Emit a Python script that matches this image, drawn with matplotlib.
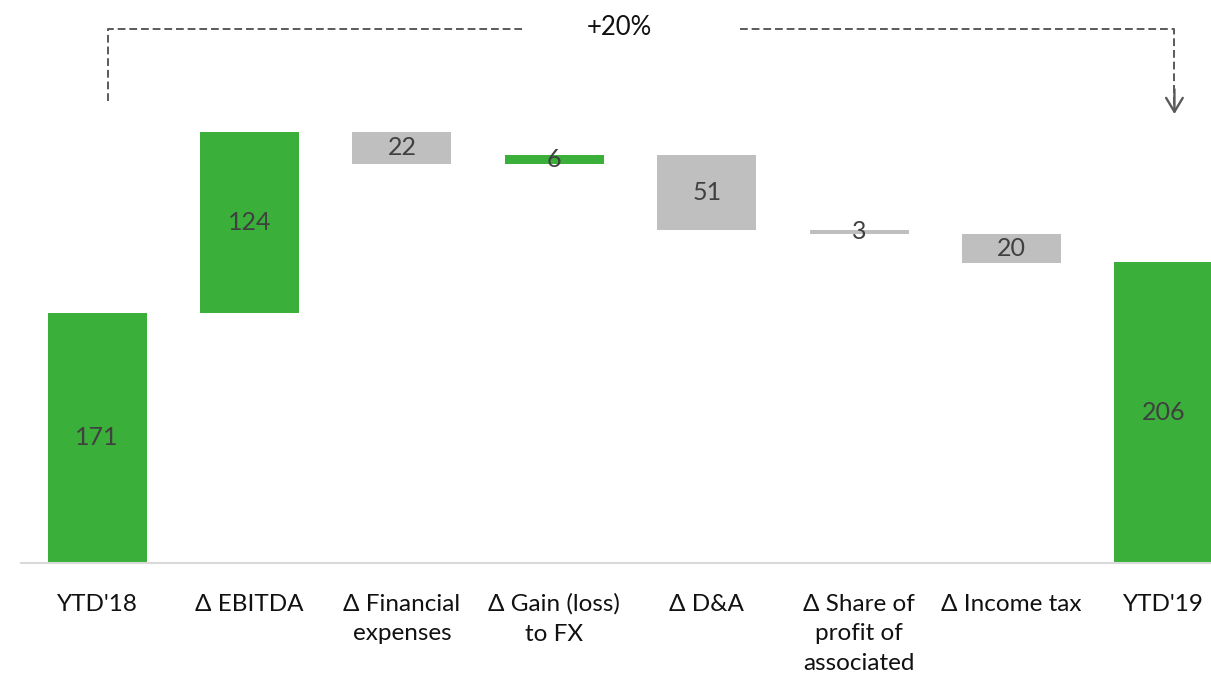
import matplotlib.pyplot as plt

plt.rcParams["font.family"] = ["Lato", "DejaVu Sans"]

categories = ["YTD'18", "Δ EBITDA", "Δ Financial\nexpenses", "Δ Gain (loss)\nto FX",
              "Δ D&A", "Δ Share of\nprofit of\nassociated", "Δ Income tax", "YTD'19"]
deltas = [171, 124, -22, 6, -51, -3, -20, 206]
labels = ["171", "124", "22", "6", "51", "3", "20", "206"]
is_total = [True, False, False, False, False, False, False, True]
growth_label = "+20%"

GREEN = "#3aaf3a"
GREY = "#bfbfbf"
LINE = "#5a5a5a"

fig = plt.figure(figsize=(12.11, 6.75), dpi=100)
ax = fig.add_axes([21 / 1211, 112 / 675, 1190 / 1211, 563 / 675])

running = 0
for i, (d, tot) in enumerate(zip(deltas, is_total)):
    if tot:
        bottom, height = 0, d
        running = d
    else:
        bottom = running if d > 0 else running + d
        height = abs(d)
        running += d
    color = GREEN if (tot or d > 0) else GREY
    ax.bar(i, height, bottom=bottom, width=0.65, color=color, zorder=2)
    ax.text(i, bottom + height / 2, labels[i], ha="center", va="center",
            fontsize=18, color="#404040", zorder=3)

ax.set_xlim(-0.5, 7.31)
ax.set_ylim(0, 385)
ax.set_xticks(range(len(categories)))
ax.set_xticklabels(categories, fontsize=17.5, color="#111111", linespacing=1.5)
ax.tick_params(axis="x", length=0, pad=22)
ax.set_yticks([])
for s in ["top", "right", "left"]:
    ax.spines[s].set_visible(False)
ax.spines["bottom"].set_color("#d9d9d9")
ax.spines["bottom"].set_linewidth(1.5)

# growth arrow
y_top = 365
xl, xr = 0.07, 7.07
dash = dict(color=LINE, lw=1.4, ls=(0, (4, 2)), clip_on=False)
ax.plot([xl, xl, 2.79], [316, y_top, y_top], **dash)
ax.plot([4.22, xr, xr], [y_top, y_top, 312], **dash)
ax.annotate("", xy=(xr, 307), xytext=(xr, 324),
            arrowprops=dict(arrowstyle="->,head_length=1.0,head_width=0.6",
                            color=LINE, lw=1.7, shrinkA=0, shrinkB=0),
            annotation_clip=False)
ax.text(3.43, y_top + 1, growth_label, ha="center", va="center",
        fontsize=18.5, color="#111111")

fig.savefig("out.png", dpi=100)
